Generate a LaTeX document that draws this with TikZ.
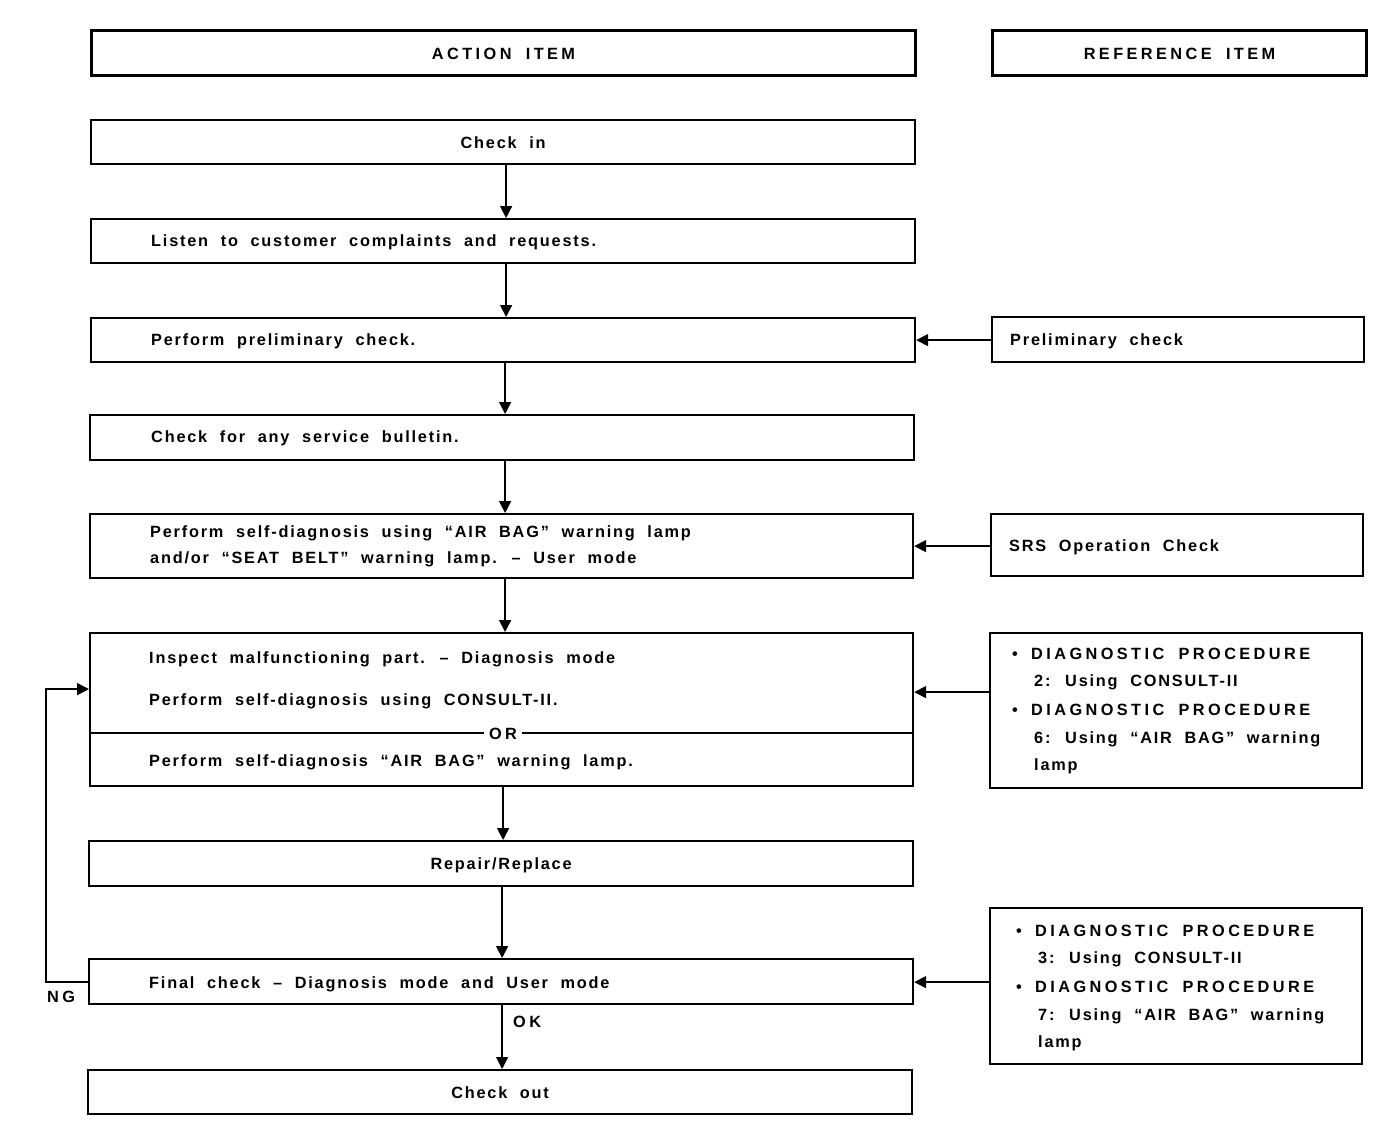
\documentclass[tikz,border=0pt]{standalone}
\usepackage{fontspec}
\setmainfont{Liberation Sans}[LetterSpace=11,WordSpace=2.0]
\newfontfamily\capsfont{Liberation Sans}[LetterSpace=21,WordSpace=1.8]
\usetikzlibrary{arrows.meta,calc}
\begin{document}
\begin{tikzpicture}[x=1pt,y=-1pt,
  box/.style={draw,line width=2.2pt,anchor=north west,inner sep=0pt},
  hdr/.style={draw,line width=3pt,anchor=north west,inner sep=0pt},
  txt/.style={anchor=base west,inner sep=0pt},
  ctxt/.style={anchor=base,inner sep=0pt,yshift=-6pt},
  caps/.style={font=\fontsize{16.3}{26}\capsfont\bfseries},
  arr/.style={line width=1.7pt,-{Triangle[length=12pt,width=12pt]}},
  every node/.append style={font=\fontsize{16.3}{26}\selectfont\bfseries}]
\useasboundingbox (0,0) rectangle (1392,1136);
% headers
\node[hdr,minimum width=824pt,minimum height=45pt] (hA) at (90,29) {};
\node[ctxt,caps] at (hA.center) {ACTION ITEM};
\node[hdr,minimum width=374pt,minimum height=45pt] (hR) at (991,29) {};
\node[ctxt,caps] at (hR.center) {REFERENCE ITEM};
% main boxes
\node[box,minimum width=824pt,minimum height=44pt] (checkin) at (90,119) {};
\node[ctxt] at (checkin.center) {Check in};
\node[box,minimum width=824pt,minimum height=44pt] (listen) at (90,218) {};
\node[txt] at (151,246) {Listen to customer complaints and requests.};
\node[box,minimum width=824pt,minimum height=44pt] (prelim) at (90,317) {};
\node[txt] at (151,345) {Perform preliminary check.};
\node[box,minimum width=824pt,minimum height=45pt] (bull) at (89,414) {};
\node[txt] at (151,442) {Check for any service bulletin.};
\node[box,minimum width=823pt,minimum height=64pt] (self) at (89,513) {};
\node[txt] at (150,537) {Perform self-diagnosis using “AIR BAG” warning lamp};
\node[txt] at (150,563) {and/or “SEAT BELT” warning lamp. -- User mode};
\node[box,minimum width=823pt,minimum height=153pt] (insp) at (89,632) {};
\node[txt] (i1) at (149,663) {Inspect malfunctioning part. -- Diagnosis mode};
\node[txt] (i2) at (149,705) {Perform self-diagnosis using CONSULT-II.};
\draw[line width=2.2pt] (insp.west |- 0,733) -- (insp.east |- 0,733);
\node[ctxt,caps,fill=white,inner xsep=5pt,inner ysep=1pt] (or) at (503,733) {OR};
\node[txt] (i3) at (149,766) {Perform self-diagnosis “AIR BAG” warning lamp.};
\node[box,minimum width=824pt,minimum height=45pt] (rep) at (88,840) {};
\node[ctxt] at (rep.center) {Repair/Replace};
\node[box,minimum width=824pt,minimum height=45pt] (fin) at (88,958) {};
\node[txt] at (149,988) {Final check -- Diagnosis mode and User mode};
\node[box,minimum width=824pt,minimum height=44pt] (out) at (87,1069) {};
\node[ctxt] at (out.center) {Check out};
% reference boxes
\node[box,minimum width=372pt,minimum height=45pt] (rPre) at (991,316) {};
\node[txt] at (1010,345) {Preliminary check};
\node[box,minimum width=372pt,minimum height=62pt] (rSRS) at (990,513) {};
\node[txt] at (1009,551) {SRS Operation Check};
\node[box,minimum width=372pt,minimum height=155pt] (rD1) at (989,632) {};
\node[txt] at (1012,659) {•};
\node[txt,caps] at (1031,659) {DIAGNOSTIC PROCEDURE};
\node[txt] at (1034,686) {2: Using CONSULT-II};
\node[txt] at (1012,715) {•};
\node[txt,caps] at (1031,715) {DIAGNOSTIC PROCEDURE};
\node[txt] at (1034,743) {6: Using “AIR BAG” warning};
\node[txt] at (1034,770) {lamp};
\node[box,minimum width=372pt,minimum height=156pt] (rD2) at (989,907) {};
\node[txt] at (1016,936) {•};
\node[txt,caps] at (1035,936) {DIAGNOSTIC PROCEDURE};
\node[txt] at (1038,963) {3: Using CONSULT-II};
\node[txt] at (1016,992) {•};
\node[txt,caps] at (1035,992) {DIAGNOSTIC PROCEDURE};
\node[txt] at (1038,1020) {7: Using “AIR BAG” warning};
\node[txt] at (1038,1047) {lamp};
% vertical arrows
\draw[arr] ([xshift=3pt]checkin.south) -- ([xshift=3pt]checkin.south |- listen.north);
\draw[arr] ([xshift=3pt]listen.south) -- ([xshift=3pt]listen.south |- prelim.north);
\draw[arr] ([xshift=2pt]prelim.south) -- ([xshift=2pt]prelim.south |- bull.north);
\draw[arr] ([xshift=3pt]bull.south) -- ([xshift=3pt]bull.south |- self.north);
\draw[arr] ([xshift=3.5pt]self.south) -- ([xshift=3.5pt]self.south |- insp.north);
\draw[arr] ([xshift=1.5pt]insp.south) -- ([xshift=1.5pt]insp.south |- rep.north);
\draw[arr] ([xshift=1pt]rep.south) -- ([xshift=1pt]rep.south |- fin.north);
\draw[arr] ([xshift=1pt]fin.south) -- ([xshift=1pt]fin.south |- out.north);
\node[txt,caps] (ok) at (513,1027) {OK};
% horizontal arrows
\draw[arr] (rPre.west |- prelim.east) -- (prelim.east);
\draw[arr] (rSRS.west |- self.east) -- (self.east);
\draw[arr] ([yshift=18.5pt]rD1.west) -- ([yshift=18.5pt]rD1.west -| insp.east);
\draw[arr] ([yshift=-0.5pt]rD2.west |- fin.east) -- ([yshift=-0.5pt]fin.east);
% NG loop
\coordinate (lx) at (46,0);
\draw[arr] ([yshift=-0.5pt]fin.west) -- ([yshift=-0.5pt]fin.west -| lx) |- ([yshift=20.5pt]insp.west);
\node[txt,caps] (ng) at (47,1002) {NG};
\end{tikzpicture}
\end{document}
